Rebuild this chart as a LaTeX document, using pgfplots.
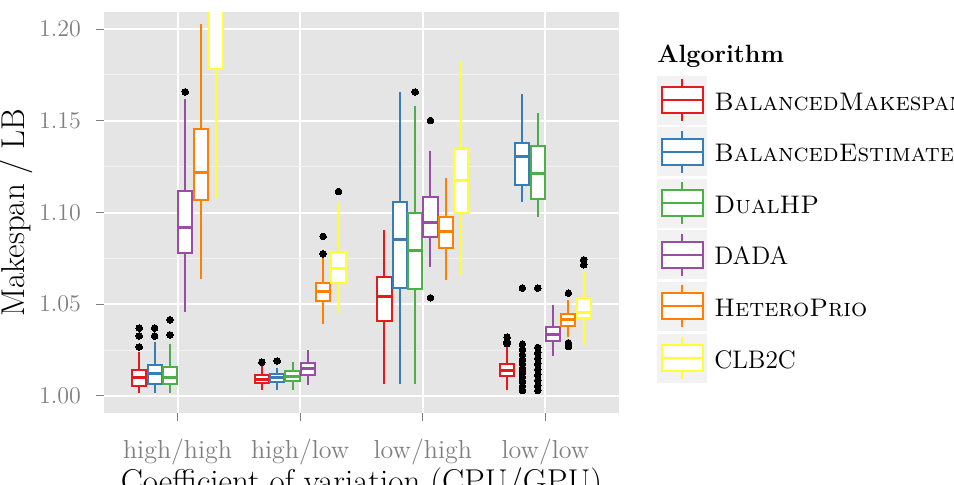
\documentclass[border=0pt]{standalone}
\usepackage{fontspec}
\usepackage{pgfplots}
\pgfplotsset{compat=1.18}
\usepgfplotslibrary{statistics}

% ColorBrewer Set1
\definecolor{cR}{HTML}{E41A1C}
\definecolor{cB}{HTML}{377EB8}
\definecolor{cG}{HTML}{4DAF4A}
\definecolor{cP}{HTML}{984EA3}
\definecolor{cO}{HTML}{FF7F00}
\definecolor{cY}{HTML}{FFFF33}
\definecolor{panel}{HTML}{E5E5E5}
\definecolor{grey95}{HTML}{F2F2F2}
\definecolor{grey50}{HTML}{7F7F7F}

% \bx{position}{colour}{lower whisker}{Q1}{median}{Q3}{upper whisker}{outliers}
\newcommand{\bx}[8]{%
  \addplot[draw=#2, fill=white, solid, line width=1pt,
    mark=*, mark size=1.65pt, mark options={draw=black, fill=black, line width=0pt},
    boxplot prepared={draw position=#1, lower whisker=#3, lower quartile=#4,
      median=#5, upper quartile=#6, upper whisker=#7}]
    coordinates {#8};}

\begin{document}
\begin{tikzpicture}
\begin{axis}[
  at={(0,0)}, anchor=south west,
  scale only axis, width=257.5pt, height=200.5pt,
  xmin=0.4, xmax=4.6, ymin=0.9907, ymax=1.2093,
  axis background/.style={fill=panel},
  axis x line*=bottom, axis y line*=left,
  axis line style={draw=none},
  clip marker paths=true,
  xtick={1,2,3,4},
  xticklabels={high/high,high/low,low/high,low/low},
  ytick={1,1.05,1.1,1.15,1.2},
  minor ytick={0.975,1.025,1.075,1.125,1.175},
  yticklabel={\pgfmathprintnumber[fixed,fixed zerofill,precision=2]{\tick}},
  xmajorgrids, ymajorgrids, yminorgrids,
  major grid style={white, line width=1pt},
  minor grid style={grey95, line width=0.5pt},
  tick align=outside, major tick length=4pt, minor tick length=0pt,
  tick style={grey50, line width=0.5pt},
  tick label style={font=\fontsize{13}{15}\selectfont, text=grey50},
  yticklabel style={xshift=-4pt},
  xticklabel style={yshift=-5.5pt},
  xlabel={Coefficient of variation (CPU/GPU)},
  ylabel={Makespan / LB},
  every axis x label/.style={at={(rel axis cs:0.5,0)}, anchor=base,
    yshift=-39.8pt, font=\fontsize{16.5}{19}\selectfont},
  every axis y label/.style={at={(rel axis cs:0,0.5)}, xshift=-44pt,
    rotate=90, anchor=center, font=\fontsize{16.5}{19}\selectfont},
  boxplot/draw direction=y,
  boxplot/box extend=0.115,
  boxplot/whisker extend=0,
  boxplot/every box/.style={line width=1pt},
  boxplot/every whisker/.style={line width=1pt},
  boxplot/every median/.style={line width=1.5pt},
]
% high/high
\bx{0.6875}{cR}{1.0016}{1.0055}{1.0098}{1.0142}{1.0240}{(0,1.0267) (0,1.0327) (0,1.0370)}
\bx{0.8125}{cB}{1.0016}{1.0065}{1.0120}{1.0169}{1.0295}{(0,1.0327) (0,1.0370)}
\bx{0.9375}{cG}{1.0016}{1.0065}{1.0098}{1.0158}{1.0284}{(0,1.0333) (0,1.0415)}
\bx{1.0625}{cP}{1.0458}{1.0780}{1.0917}{1.1118}{1.1620}{(0,1.1658)}
\bx{1.1875}{cO}{1.0638}{1.1069}{1.1217}{1.1457}{1.2030}{(0,1.2100)}
\bx{1.3125}{cY}{1.1080}{1.1784}{1.2400}{1.2800}{1.3300}{}
% high/low
\bx{1.6875}{cR}{1.0033}{1.0069}{1.0091}{1.0115}{1.0169}{(0,1.0184)}
\bx{1.8125}{cB}{1.0033}{1.0078}{1.0098}{1.0120}{1.0153}{(0,1.0191)}
\bx{1.9375}{cG}{1.0033}{1.0084}{1.0107}{1.0138}{1.0184}{}
\bx{2.0625}{cP}{1.0060}{1.0115}{1.0147}{1.0178}{1.0251}{}
\bx{2.1875}{cO}{1.0393}{1.0518}{1.0569}{1.0615}{1.0750}{(0,1.0775) (0,1.0870)}
\bx{2.3125}{cY}{1.0451}{1.0618}{1.0693}{1.0787}{1.1051}{(0,1.1115)}
% low/high
\bx{2.6875}{cR}{1.0065}{1.0411}{1.0542}{1.0648}{1.0902}{}
\bx{2.8125}{cB}{1.0065}{1.0588}{1.0855}{1.1055}{1.1655}{}
\bx{2.9375}{cG}{1.0065}{1.0582}{1.0793}{1.0997}{1.1578}{(0,1.1657)}
\bx{3.0625}{cP}{1.0702}{1.0869}{1.0945}{1.1084}{1.1338}{(0,1.0535) (0,1.1502)}
\bx{3.1875}{cO}{1.0633}{1.0809}{1.0895}{1.0978}{1.1188}{}
\bx{3.3125}{cY}{1.0660}{1.1000}{1.1175}{1.1348}{1.1824}{}
% low/low
\bx{3.6875}{cR}{1.0033}{1.0109}{1.0138}{1.0175}{1.0269}{(0,1.0285) (0,1.0296) (0,1.0320)}
\bx{3.8125}{cB}{1.1055}{1.1151}{1.1306}{1.1379}{1.1648}{(0,1.0029) (0,1.0053) (0,1.0078) (0,1.0103) (0,1.0127) (0,1.0151) (0,1.0175) (0,1.0200) (0,1.0224) (0,1.0253) (0,1.0282) (0,1.0588)}
\bx{3.9375}{cG}{1.0978}{1.1075}{1.1215}{1.1360}{1.1542}{(0,1.0029) (0,1.0055) (0,1.0085) (0,1.0115) (0,1.0145) (0,1.0175) (0,1.0205) (0,1.0235) (0,1.0264) (0,1.0588)}
\bx{4.0625}{cP}{1.0218}{1.0300}{1.0333}{1.0378}{1.0496}{}
\bx{4.1875}{cO}{1.0324}{1.0384}{1.0418}{1.0446}{1.0524}{(0,1.0270) (0,1.0290) (0,1.0560)}
\bx{4.3125}{cY}{1.0278}{1.0424}{1.0455}{1.0533}{1.0678}{(0,1.0715) (0,1.0742)}
\end{axis}

% legend
\node[anchor=base west, inner sep=0pt, font=\bfseries\fontsize{12.5}{15}\selectfont]
  at (276.5pt,175.5pt) {Algorithm};
\foreach \c/\t [count=\i from 0] in {cR/\textsc{BalancedMakespan},
    cB/\textsc{BalancedEstimate}, cG/\textsc{DualHP}, cP/DADA,
    cO/\textsc{HeteroPrio}, cY/CLB2C} {
  \pgfmathsetmacro\yc{156.5-25.8*\i}
  \fill[grey95] (276.5pt,\yc pt-12.25pt) rectangle (301.5pt,\yc pt+12.25pt);
  \draw[\c, line width=1pt] (289pt,\yc pt+6.5pt) -- (289pt,\yc pt+10.5pt)
    (289pt,\yc pt-6.5pt) -- (289pt,\yc pt-10.5pt);
  \draw[\c, line width=1pt, fill=white] (278.75pt,\yc pt-6.5pt) rectangle (299.25pt,\yc pt+6.5pt);
  \draw[\c, line width=1pt] (278.75pt,\yc pt) -- (299.25pt,\yc pt);
  \node[anchor=base west, inner sep=0pt, font=\fontsize{12.7}{15}\selectfont]
    at (305pt,\yc pt-5pt) {\t};
}

\pgfresetboundingbox
\useasboundingbox (-52pt,-35.5pt) rectangle (425pt,206.5pt);
\end{tikzpicture}
\end{document}
